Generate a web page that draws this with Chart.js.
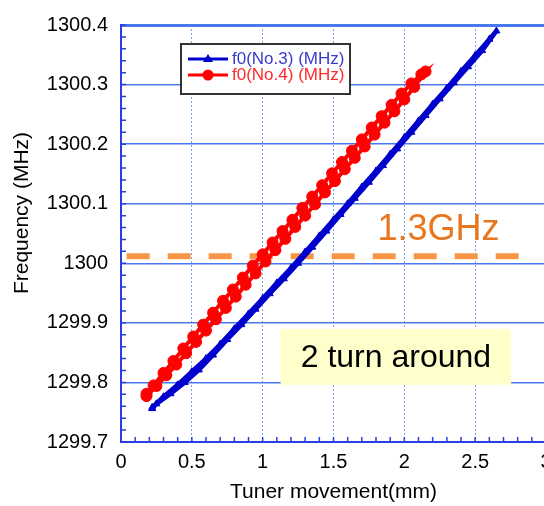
<!DOCTYPE html>
<html>
<head>
<meta charset="utf-8">
<script src="https://cdn.jsdelivr.net/npm/chart.js@4.4.1/dist/chart.umd.min.js"></script>
<style>
  html, body { margin: 0; padding: 0; background: #fff; overflow: hidden; }
  #wrap { width: 544px; height: 506px; overflow: hidden; }
</style>
</head>
<body>
<div id="wrap"><canvas id="tuner" width="560" height="506"></canvas></div>
<script>
// axis tick labels
var xTickLabels = ["0", "0.5", "1", "1.5", "2", "2.5", "3"];
var yTickLabels = ["1299.7", "1299.8", "1299.9", "1300", "1300.1", "1300.2", "1300.3", "1300.4"];

// f0 (No.3): tuner pushed in, then pulled back
var no3X = [0.22, 0.30, 0.40, 0.50, 0.60, 0.70, 0.80, 0.90, 1.00, 1.10, 1.20, 1.30, 1.40,
  1.50, 1.60, 1.70, 1.80, 1.90, 2.00, 2.10, 2.20, 2.30, 2.40, 2.50, 2.60, 2.65,
  2.55, 2.45, 2.35, 2.25, 2.15, 2.05, 1.95, 1.85, 1.75, 1.65, 1.55, 1.45, 1.35,
  1.25, 1.15, 1.05, 0.95, 0.85, 0.75, 0.65, 0.55, 0.45, 0.35, 0.25, 0.22];
var no3F = [1299.758, 1299.776, 1299.796, 1299.818, 1299.840, 1299.864, 1299.890, 1299.915,
  1299.941, 1299.967, 1299.992, 1300.019, 1300.046, 1300.073, 1300.100, 1300.128, 1300.155,
  1300.183, 1300.211, 1300.239, 1300.267, 1300.294, 1300.322, 1300.349, 1300.376, 1300.390,
  1300.357, 1300.330, 1300.303, 1300.276, 1300.248, 1300.220, 1300.192, 1300.164, 1300.136,
  1300.109, 1300.082, 1300.054, 1300.027, 1300.000, 1299.974, 1299.949, 1299.923, 1299.897,
  1299.872, 1299.846, 1299.821, 1299.800, 1299.781, 1299.764, 1299.756];

// f0 (No.4)
var no4X = [0.18, 0.25, 0.32, 0.39, 0.46, 0.53, 0.60, 0.67, 0.74, 0.81, 0.88, 0.95, 1.02,
  1.09, 1.16, 1.23, 1.30, 1.37, 1.44, 1.51, 1.58, 1.65, 1.72, 1.79, 1.86, 1.93, 2.00, 2.07, 2.15,
  2.12, 2.05, 1.98, 1.91, 1.84, 1.77, 1.70, 1.63, 1.56, 1.49, 1.42, 1.35, 1.28, 1.21, 1.14,
  1.07, 1.00, 0.93, 0.86, 0.79, 0.72, 0.65, 0.58, 0.51, 0.44, 0.37, 0.30, 0.23, 0.18];
var no4F = [1299.777, 1299.794, 1299.812, 1299.830, 1299.849, 1299.868, 1299.887, 1299.906,
  1299.925, 1299.944, 1299.964, 1299.983, 1300.003, 1300.022, 1300.041, 1300.061, 1300.080,
  1300.099, 1300.119, 1300.138, 1300.158, 1300.177, 1300.196, 1300.216, 1300.236, 1300.255,
  1300.275, 1300.296, 1300.322,
  1300.317, 1300.302, 1300.285, 1300.266, 1300.247, 1300.228, 1300.208, 1300.189, 1300.170,
  1300.151, 1300.131, 1300.112, 1300.093, 1300.073, 1300.054, 1300.035, 1300.015, 1299.996,
  1299.976, 1299.956, 1299.937, 1299.917, 1299.897, 1299.877, 1299.857, 1299.836, 1299.816,
  1299.795, 1299.781];

// 1.3 GHz target line
var targetX = [0.04, 2.86];
var targetF = [1300.012, 1300.012];

var FONT = "'Liberation Sans', Arial, sans-serif";
var AXIS_BLUE = "#2b3fe0";

function toPoints(xs, ys) {
  return xs.map(function (x, i) { return { x: x, y: ys[i] }; });
}

// extra drawing: minor ticks, y title, legend box, notes
var extras = {
  id: "extras",
  afterDraw: function (chart) {
    var ctx = chart.ctx;
    var xs = chart.scales.x, ys = chart.scales.y;
    var area = chart.chartArea;
    ctx.save();

    // minor ticks, pointing inward
    ctx.strokeStyle = AXIS_BLUE;
    ctx.lineWidth = 1.5;
    ctx.beginPath();
    for (var k = 0; k <= 35; k++) {
      var py = ys.getPixelForValue(1299.7 + k * 0.02);
      ctx.moveTo(area.left, py);
      ctx.lineTo(area.left + 5, py);
    }
    for (var j = 0; j <= 30; j++) {
      var px = xs.getPixelForValue(j * 0.1);
      ctx.moveTo(px, area.bottom);
      ctx.lineTo(px, area.bottom - 5);
    }
    ctx.stroke();

    // y axis title
    ctx.save();
    ctx.translate(22, 213);
    ctx.rotate(-Math.PI / 2);
    ctx.fillStyle = "#000";
    ctx.font = "21px " + FONT;
    ctx.textAlign = "center";
    ctx.textBaseline = "middle";
    ctx.fillText("Frequency (MHz)", 0, 0);
    ctx.restore();

    // "2 turn around" note
    var bx1 = xs.getPixelForValue(1.127), bx2 = xs.getPixelForValue(2.754);
    var by1 = ys.getPixelForValue(1299.890), by2 = ys.getPixelForValue(1299.796);
    ctx.fillStyle = "#ffffcc";
    ctx.fillRect(bx1, by1, bx2 - bx1, by2 - by1);
    ctx.fillStyle = "#000";
    ctx.font = "32px " + FONT;
    ctx.textAlign = "center";
    ctx.textBaseline = "middle";
    ctx.fillText("2 turn around", (bx1 + bx2) / 2, (by1 + by2) / 2 + 1);

    // 1.3GHz label
    ctx.fillStyle = "#e8761e";
    ctx.font = "36px " + FONT;
    ctx.textAlign = "left";
    ctx.textBaseline = "alphabetic";
    ctx.fillText("1.3GHz", xs.getPixelForValue(1.81), ys.getPixelForValue(1300.039));

    // legend
    var lx = area.left + 60, ly = area.top + 19, lw = 169, lh = 50;
    ctx.fillStyle = "#fff";
    ctx.fillRect(lx, ly, lw, lh);
    ctx.strokeStyle = "#333";
    ctx.lineWidth = 2;
    ctx.strokeRect(lx, ly, lw, lh);
    var items = [
      { ds: chart.data.datasets[0], text: "#3a3acc" },
      { ds: chart.data.datasets[1], text: "#ff2a2a" }
    ];
    ctx.font = "17px " + FONT;
    ctx.textBaseline = "middle";
    items.forEach(function (it, i) {
      var cy = ly + 15 + i * 16;
      ctx.strokeStyle = it.ds.borderColor;
      ctx.lineWidth = 3;
      ctx.beginPath();
      ctx.moveTo(lx + 7, cy);
      ctx.lineTo(lx + 47, cy);
      ctx.stroke();
      ctx.fillStyle = it.ds.borderColor;
      ctx.beginPath();
      if (it.ds.pointStyle === "triangle") {
        ctx.moveTo(lx + 27, cy - 5);
        ctx.lineTo(lx + 32, cy + 3);
        ctx.lineTo(lx + 22, cy + 3);
        ctx.closePath();
      } else {
        ctx.arc(lx + 27, cy, 5.5, 0, Math.PI * 2);
      }
      ctx.fill();
      ctx.fillStyle = it.text;
      ctx.textAlign = "left";
      ctx.fillText(it.ds.label, lx + 51, cy);
    });

    ctx.restore();
  }
};

var config = {
  type: "scatter",
  data: {
    datasets: [
      {
        label: "f0(No.3) (MHz)",
        data: toPoints(no3X, no3F),
        showLine: true,
        borderColor: "#0000cc",
        backgroundColor: "#0000cc",
        borderWidth: 4.5,
        pointStyle: "triangle",
        pointRadius: 4,
        pointBorderWidth: 1,
        order: 2,
      },
      {
        label: "f0(No.4) (MHz)",
        data: toPoints(no4X, no4F),
        showLine: true,
        borderColor: "#ff0000",
        backgroundColor: "#ff0000",
        borderWidth: 4,
        pointStyle: "circle",
        pointRadius: 5.5,
        pointBorderWidth: 1,
        order: 1,
      },
      {
        label: "1.3GHz",
        data: toPoints(targetX, targetF),
        showLine: true,
        borderColor: "#f79646",
        borderWidth: 6,
        borderDash: [23, 18],
        borderCapStyle: "butt",
        pointRadius: 0,
        order: 3,
      },
    ],
  },
  options: {
    responsive: false,
    animation: false,
    layout: {
      padding: { top: 18, right: 14, left: 0, bottom: 0 },
    },
    plugins: {
      legend: { display: false },
      tooltip: { enabled: false },
    },
    scales: {
      x: {
        type: "linear",
        min: 0,
        max: 3,
        afterFit: function (scale) { scale.height = 64; },
        ticks: {
          stepSize: 0.5,
          padding: 8,
          color: "#000",
          font: { size: 20, family: FONT },
          maxRotation: 0,
          callback: function (v, i) { return xTickLabels[i]; },
        },
        grid: {
          color: "#79a3f2",
          lineWidth: 1,
          drawTicks: false,
        },
        border: { display: true, color: AXIS_BLUE, width: 2, dash: [2, 2] },
        title: {
          display: true,
          text: "Tuner movement(mm)",
          color: "#000",
          font: { size: 21, family: FONT },
          padding: { top: 0, bottom: 1 },
        },
      },
      y: {
        type: "linear",
        min: 1299.7,
        max: 1300.4,
        afterFit: function (scale) { scale.width = 121; },
        ticks: {
          stepSize: 0.1,
          padding: 13,
          color: "#000",
          font: { size: 20, family: FONT },
          callback: function (v, i) { return yTickLabels[i]; },
        },
        grid: {
          color: "#4a78ee",
          lineWidth: function (c) { return c.index === 7 ? 3 : 1.5; },
          drawTicks: false,
        },
        border: { display: true, color: AXIS_BLUE, width: 2 },
      },
    },
  },
  plugins: [extras],
};

var tunerChart = new Chart(document.getElementById("tuner").getContext("2d"), config);
</script>
</body>
</html>
